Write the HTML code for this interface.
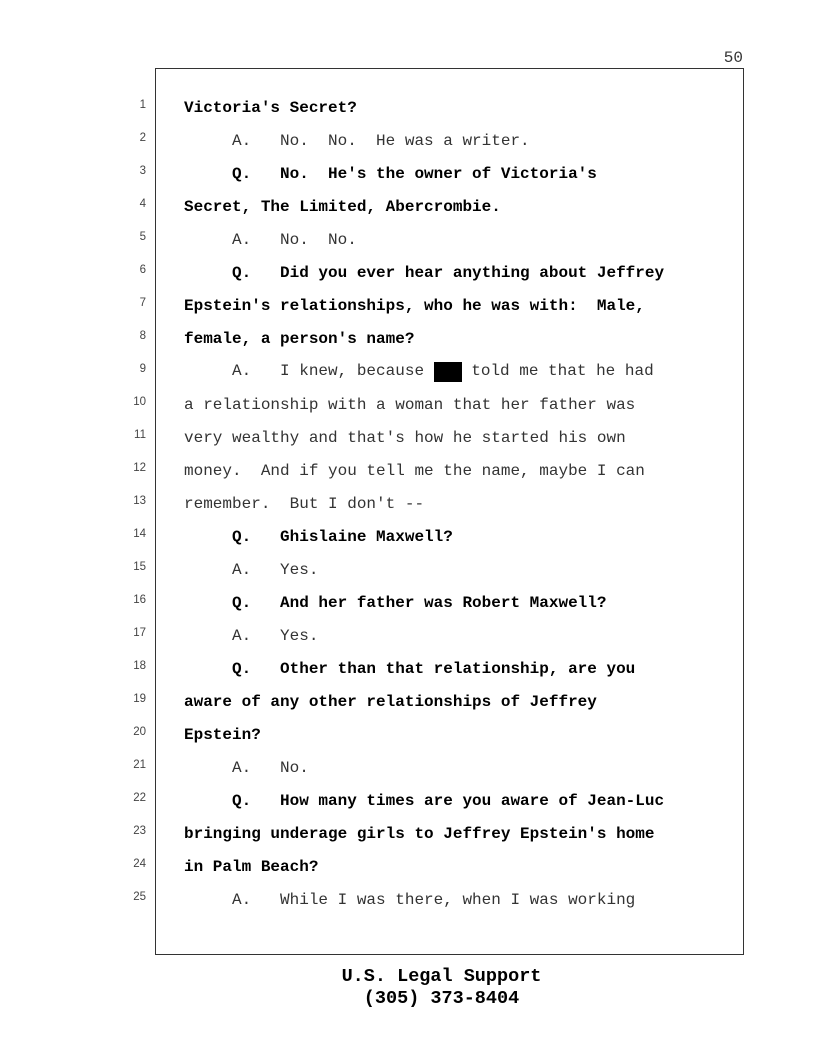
<!DOCTYPE html>
<html><head><meta charset="utf-8"><style>
body{margin:0;width:816px;height:1056px;background:#fff;position:relative;overflow:hidden;}
.pn{position:absolute;left:700px;top:49px;width:43px;text-align:right;font:16px "Liberation Mono",monospace;color:#333;}
.box{position:absolute;left:155px;top:68px;width:589px;height:887px;border:1.3px solid #333;box-sizing:border-box;}
.l{position:absolute;left:184px;height:20px;line-height:20px;font:16px "Liberation Mono",monospace;white-space:pre;color:#333;}
.l.b{font-weight:bold;color:#000;}
.n{position:absolute;left:120px;width:26px;text-align:right;font:11.5px "Liberation Sans",sans-serif;color:#444;height:16px;line-height:16px;}
.r{display:inline-block;width:28px;height:20px;background:#000;vertical-align:top;}
.f{position:absolute;left:0;width:883px;text-align:center;font:bold 18.5px "Liberation Mono",monospace;color:#000;white-space:pre;}
</style></head><body>
<div class="pn">50</div>
<div class="box"></div>
<div class="n" style="top:97px">1</div><div class="l b" style="top:99px">Victoria's Secret?</div>
<div class="n" style="top:130px">2</div><div class="l" style="top:132px">     A.   No.  No.  He was a writer.</div>
<div class="n" style="top:163px">3</div><div class="l b" style="top:165px">     Q.   No.  He's the owner of Victoria's</div>
<div class="n" style="top:196px">4</div><div class="l b" style="top:198px">Secret, The Limited, Abercrombie.</div>
<div class="n" style="top:229px">5</div><div class="l" style="top:231px">     A.   No.  No.</div>
<div class="n" style="top:262px">6</div><div class="l b" style="top:264px">     Q.   Did you ever hear anything about Jeffrey</div>
<div class="n" style="top:295px">7</div><div class="l b" style="top:297px">Epstein's relationships, who he was with:  Male,</div>
<div class="n" style="top:328px">8</div><div class="l b" style="top:330px">female, a person's name?</div>
<div class="n" style="top:361px">9</div><div class="l" style="top:362px">     A.   I knew, because <span class="r"></span> told me that he had</div>
<div class="n" style="top:394px">10</div><div class="l" style="top:396px">a relationship with a woman that her father was</div>
<div class="n" style="top:427px">11</div><div class="l" style="top:429px">very wealthy and that's how he started his own</div>
<div class="n" style="top:460px">12</div><div class="l" style="top:462px">money.  And if you tell me the name, maybe I can</div>
<div class="n" style="top:493px">13</div><div class="l" style="top:495px">remember.  But I don't --</div>
<div class="n" style="top:526px">14</div><div class="l b" style="top:528px">     Q.   Ghislaine Maxwell?</div>
<div class="n" style="top:559px">15</div><div class="l" style="top:561px">     A.   Yes.</div>
<div class="n" style="top:592px">16</div><div class="l b" style="top:594px">     Q.   And her father was Robert Maxwell?</div>
<div class="n" style="top:625px">17</div><div class="l" style="top:627px">     A.   Yes.</div>
<div class="n" style="top:658px">18</div><div class="l b" style="top:660px">     Q.   Other than that relationship, are you</div>
<div class="n" style="top:691px">19</div><div class="l b" style="top:693px">aware of any other relationships of Jeffrey</div>
<div class="n" style="top:724px">20</div><div class="l b" style="top:726px">Epstein?</div>
<div class="n" style="top:757px">21</div><div class="l" style="top:759px">     A.   No.</div>
<div class="n" style="top:790px">22</div><div class="l b" style="top:792px">     Q.   How many times are you aware of Jean-Luc</div>
<div class="n" style="top:823px">23</div><div class="l b" style="top:825px">bringing underage girls to Jeffrey Epstein's home</div>
<div class="n" style="top:856px">24</div><div class="l b" style="top:858px">in Palm Beach?</div>
<div class="n" style="top:889px">25</div><div class="l" style="top:891px">     A.   While I was there, when I was working</div>
<div class="f" style="top:966px">U.S. Legal Support</div>
<div class="f" style="top:988px">(305) 373-8404</div>
</body></html>
